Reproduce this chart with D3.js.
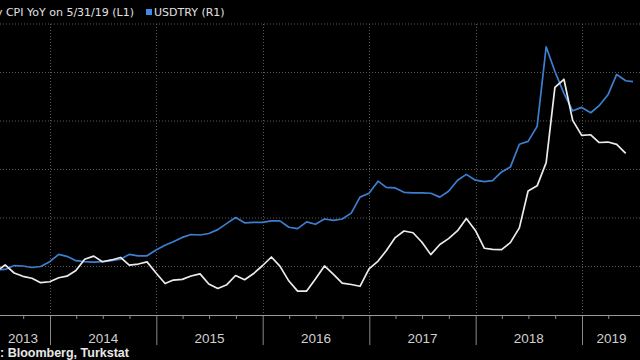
<!DOCTYPE html>
<html>
<head>
<meta charset="utf-8">
<script src="https://cdn.jsdelivr.net/npm/d3@7"></script>
<style>
  html, body { margin: 0; padding: 0; background: #000; }
  svg { display: block; }
</style>
</head>
<body>
<svg id="chart" width="640" height="360"></svg>
<script>
// ---- Data (month-end observations) ----
const months = [
  "2013-06","2013-07","2013-08","2013-09","2013-10","2013-11","2013-12",
  "2014-01","2014-02","2014-03","2014-04","2014-05","2014-06","2014-07","2014-08","2014-09","2014-10","2014-11","2014-12",
  "2015-01","2015-02","2015-03","2015-04","2015-05","2015-06","2015-07","2015-08","2015-09","2015-10","2015-11","2015-12",
  "2016-01","2016-02","2016-03","2016-04","2016-05","2016-06","2016-07","2016-08","2016-09","2016-10","2016-11","2016-12",
  "2017-01","2017-02","2017-03","2017-04","2017-05","2017-06","2017-07","2017-08","2017-09","2017-10","2017-11","2017-12",
  "2018-01","2018-02","2018-03","2018-04","2018-05","2018-06","2018-07","2018-08","2018-09","2018-10","2018-11","2018-12",
  "2019-01","2019-02","2019-03","2019-04","2019-05"
];
// Turkey CPI YoY (%), left axis
const cpiYoY = [
  8.30, 8.88, 8.17, 7.88, 7.71, 7.32, 7.40,
  7.75, 7.89, 8.39, 9.38, 9.66, 9.16, 9.32, 9.54, 8.86, 8.96, 9.15, 8.17,
  7.24, 7.55, 7.61, 7.91, 8.09, 7.20, 6.81, 7.14, 7.95, 7.58, 8.10, 8.81,
  9.58, 8.78, 7.46, 6.57, 6.58, 7.64, 8.79, 8.05, 7.28, 7.16, 7.00, 8.53,
  9.22, 10.13, 11.29, 11.87, 11.72, 10.90, 9.79, 10.68, 11.20, 11.90, 12.98, 11.92,
  10.35, 10.26, 10.23, 10.85, 12.15, 15.39, 15.85, 17.90, 24.52, 25.24, 21.62, 20.30,
  20.35, 19.67, 19.71, 19.50, 18.71
];
// USDTRY, right axis (same months, plus the latest reading)
const usdTry = [
  1.93, 1.94, 2.02, 2.01, 1.98, 2.00, 2.10,
  2.25, 2.21, 2.12, 2.10, 2.09, 2.10, 2.12, 2.15, 2.25, 2.22, 2.22, 2.34,
  2.44, 2.51, 2.60, 2.66, 2.65, 2.68, 2.76, 2.89, 3.01, 2.90, 2.91, 2.91,
  2.94, 2.94, 2.81, 2.78, 2.92, 2.87, 2.98, 2.95, 2.98, 3.10, 3.43, 3.51,
  3.76, 3.63, 3.62, 3.53, 3.52, 3.52, 3.51, 3.43, 3.55, 3.78, 3.90, 3.78,
  3.75, 3.77, 3.95, 4.05, 4.52, 4.58, 4.89, 6.53, 6.02, 5.57, 5.21, 5.28,
  5.17, 5.31, 5.54, 5.96, 5.83
];
const usdLatestDate = "2019-06-25";
const usdLatest = 5.81;

const rightTicks = [1, 2, 3, 4, 5, 6, 7];
const yearLabels = ["2013", "2014", "2015", "2016", "2017", "2018", "2019"];
const legendCpi = "Turkey CPI YoY on 5/31/19 (L1)";
const legendUsd = "USDTRY (R1)";
const sourceLabel = "Source";
const sourceText = ": Bloomberg, Turkstat";

// ---- Helpers ----
const parseMonth = d3.timeParse("%Y-%m");
const monthEnd = s => d3.timeDay.offset(d3.timeMonth.offset(parseMonth(s), 1), -1);
const cpiData = months.map((m, i) => ({ date: monthEnd(m), value: cpiYoY[i] }));
const usdData = months.map((m, i) => ({ date: monthEnd(m), value: usdTry[i] }));
usdData.push({ date: d3.timeParse("%Y-%m-%d")(usdLatestDate), value: usdLatest });

// ---- Layout ----
const svg = d3.select("#chart");
const W = 640, H = 360;
const plotTop = 24, plotBottom = 315;

const x = d3.scaleTime()
  .domain([new Date(2014, 0, 1), new Date(2019, 0, 1)])
  .range([50, 582]);

const yRight = d3.scaleLinear().domain([1, 7]).range([plotBottom, plotTop]);
const yLeft = d3.scaleLinear().domain([4.47, 30.11]).range([plotBottom, plotTop]);

svg.append("rect").attr("width", W).attr("height", H).attr("fill", "#000");

// Horizontal grid lines (right axis ticks)
svg.append("g").selectAll("line")
  .data(rightTicks.filter(t => t > 1))
  .join("line")
  .attr("x1", 0).attr("x2", W)
  .attr("y1", d => yRight(d)).attr("y2", d => yRight(d))
  .attr("stroke", "#5a5a5a").attr("stroke-width", 1)
  .attr("stroke-dasharray", "1,2");

// Vertical grid lines at year boundaries
const yearStarts = d3.timeYear.range(new Date(2014, 0, 1), new Date(2019, 1, 1));
svg.append("g").selectAll("line")
  .data(yearStarts)
  .join("line")
  .attr("x1", d => Math.round(x(d)) + 0.5).attr("x2", d => Math.round(x(d)) + 0.5)
  .attr("y1", plotTop).attr("y2", plotBottom)
  .attr("stroke", "#5a5a5a").attr("stroke-width", 1)
  .attr("stroke-dasharray", "1,2");

// X axis: quarterly minor ticks
const quarterTicks = d3.timeMonth.every(3).range(new Date(2013, 6, 1), new Date(2019, 6, 1))
  .filter(d => d.getMonth() !== 0);
const axisMinor = d3.axisBottom(x).tickValues(quarterTicks).tickSize(4).tickFormat("");
const gMinor = svg.append("g").attr("transform", `translate(0,${plotBottom})`).call(axisMinor);
gMinor.select(".domain").remove();
gMinor.selectAll("line").attr("stroke", "#8a8a8a");

// Year separator ticks
const axisMajor = d3.axisBottom(x).tickValues(yearStarts).tickSize(30).tickFormat("");
const gMajor = svg.append("g").attr("transform", `translate(0,${plotBottom})`).call(axisMajor);
gMajor.select(".domain").remove();
gMajor.selectAll("line").attr("stroke", "#8a8a8a");

// Axis baseline
svg.append("line")
  .attr("x1", 0).attr("x2", W)
  .attr("y1", plotBottom + 0.5).attr("y2", plotBottom + 0.5)
  .attr("stroke", "#9a9a9a").attr("stroke-width", 1);

// Year labels centered in the visible span of each year
const dataStart = cpiData[0].date;
const domainEnd = new Date(2019, 6, 22);
svg.append("g").selectAll("text")
  .data(yearLabels)
  .join("text")
  .attr("x", d => {
    const yr = +d;
    const s = d3.max([new Date(yr, 0, 1), dataStart]);
    const e = d3.min([new Date(yr + 1, 0, 1), domainEnd]);
    return (x(s) + x(e)) / 2;
  })
  .attr("y", 343)
  .attr("text-anchor", "middle")
  .attr("fill", "#d0d0d0")
  .attr("font-family", "'Liberation Sans', Arial, sans-serif")
  .attr("font-size", 13.5)
  .text(d => d);

// Lines
const lineCpi = d3.line().x(d => x(d.date)).y(d => yLeft(d.value));
const lineUsd = d3.line().x(d => x(d.date)).y(d => yRight(d.value));

svg.append("path").datum(usdData)
  .attr("d", lineUsd)
  .attr("fill", "none")
  .attr("stroke", "#3c7fd0")
  .attr("stroke-width", 1.7)
  .attr("stroke-linejoin", "round");

svg.append("path").datum(cpiData)
  .attr("d", lineCpi)
  .attr("fill", "none")
  .attr("stroke", "#ececec")
  .attr("stroke-width", 1.7)
  .attr("stroke-linejoin", "round");

// Legend
const legendFont = "'DejaVu Sans', sans-serif";
const lg = svg.append("g");
const cpiText = lg.append("text")
  .attr("x", 134).attr("y", 16)
  .attr("text-anchor", "end")
  .attr("fill", "#e0e0e0")
  .attr("font-family", legendFont)
  .attr("font-size", 11)
  .text(legendCpi);
const cpiBox = cpiText.node().getBBox();
lg.append("rect")
  .attr("x", cpiBox.x - 9).attr("y", 9)
  .attr("width", 6).attr("height", 6)
  .attr("fill", "#ffffff");
lg.append("rect")
  .attr("x", 146).attr("y", 9)
  .attr("width", 6).attr("height", 6)
  .attr("fill", "#3c8ce6");
lg.append("text")
  .attr("x", 154).attr("y", 16)
  .attr("fill", "#e0e0e0")
  .attr("font-family", legendFont)
  .attr("font-size", 11)
  .text(legendUsd);

// Source
svg.append("text")
  .attr("x", 0).attr("y", 357)
  .attr("text-anchor", "end")
  .attr("fill", "#e8e8e8")
  .attr("font-family", "'Liberation Sans', Arial, sans-serif")
  .attr("font-weight", "bold")
  .attr("font-size", 12.5)
  .text(sourceLabel);
svg.append("text")
  .attr("x", 0).attr("y", 357)
  .attr("fill", "#e8e8e8")
  .attr("font-family", "'Liberation Sans', Arial, sans-serif")
  .attr("font-weight", "bold")
  .attr("font-size", 12.5)
  .text(sourceText);
</script>
</body>
</html>
